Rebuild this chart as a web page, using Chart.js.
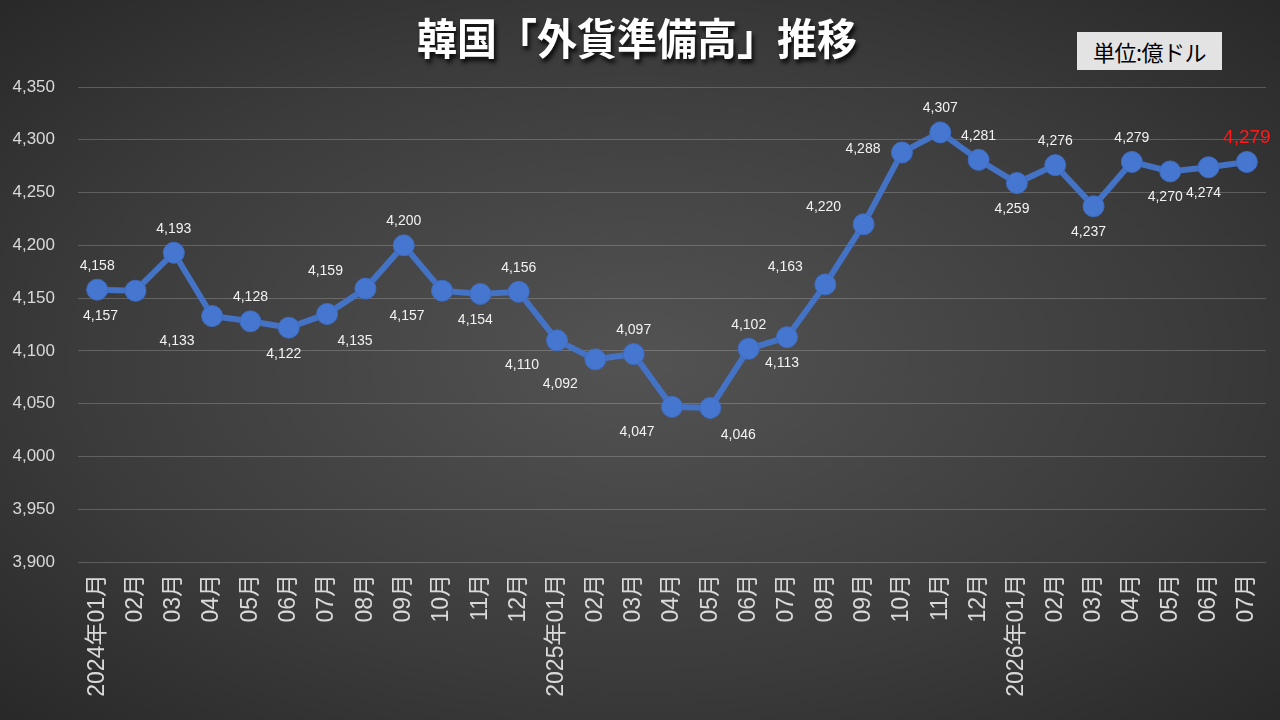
<!DOCTYPE html>
<html lang="ja">
<head>
<meta charset="utf-8">
<script src="https://cdn.jsdelivr.net/npm/chart.js@4.4.1/dist/chart.umd.min.js"></script>
<style>
    html, body { margin: 0; padding: 0; width: 1280px; height: 720px; overflow: hidden; }
    body {
        position: relative;
        background: radial-gradient(ellipse 80% 80% at 50% 50%, #535353 0%, #3b3b3b 55%, #222222 100%);
        font-family: 'Noto Sans CJK JP', sans-serif;
    }
    #title {
        position: absolute; left: 0; top: 8px; width: 1274px;
        text-align: center; color: #ffffff; font-weight: 700; font-size: 40px;
        transform: scaleY(1.08);
        text-shadow: 2px 3px 4px rgba(0, 0, 0, 0.85);
    }
    #unit {
        position: absolute; left: 1077px; top: 32px; width: 145px; height: 38px;
        background: #e3e3e3; color: #000; font-size: 22px; line-height: 38px; text-align: center;
        letter-spacing: -0.5px;
    }
    #wrap { position: absolute; left: 0; top: 0; width: 1280px; height: 720px; }
</style>
</head>
<body>
<div id="wrap"><canvas id="reserveChart" width="1280" height="720"></canvas></div>
<div id="title">韓国「外貨準備高」推移</div>
<div id="unit">単位:億ドル</div>

<script>
// ── DATA ─────────────────────────────────────────────────────────
const MONTHS = [
    '2024年01月', '02月', '03月', '04月', '05月', '06月', '07月', '08月', '09月', '10月', '11月', '12月',
    '2025年01月', '02月', '03月', '04月', '05月', '06月', '07月', '08月', '09月', '10月', '11月', '12月',
    '2026年01月', '02月', '03月', '04月', '05月', '06月', '07月'
];

const RESERVES = [
    4158, 4157, 4193, 4133, 4128, 4122, 4135, 4159, 4200, 4157, 4154, 4156,
    4110, 4092, 4097, 4047, 4046, 4102, 4113, 4163, 4220, 4288, 4307, 4281,
    4259, 4276, 4237, 4279, 4270, 4274, 4279
];

const Y_MIN = 3900;
const Y_MAX = 4350;
const Y_STEP = 50;

// where each value label sits around its point
const LABEL_POS = [
    'a', 'bl', 'a', 'bl', 'a', 'b', 'br', 'al', 'a', 'bl', 'b', 'a',
    'bl', 'bl', 'a', 'bl', 'br', 'a', 'b', 'al', 'al', 'l', 'a', 'a',
    'b', 'a', 'b', 'a', 'b', 'b', 'a'
];

const LABEL_OFFSETS = {
    a:  [0, -24],
    b:  [-5, 26],
    bl: [-35, 25],
    br: [28, 27],
    al: [-40, -17],
    l:  [-39, -3]
};

const fmt = v => v.toLocaleString('en-US');

// ── VALUE LABELS PLUGIN ──────────────────────────────────────────
const valueLabels = {
    id: 'valueLabels',
    afterDatasetsDraw(chart) {
        const ctx = chart.ctx;
        const meta = chart.getDatasetMeta(0);
        const last = meta.data.length - 1;
        ctx.save();
        ctx.textAlign = 'center';
        ctx.textBaseline = 'middle';
        meta.data.forEach((pt, i) => {
            const [dx, dy] = LABEL_OFFSETS[LABEL_POS[i]];
            if (i === last) {
                ctx.fillStyle = '#ff1a1a';
                ctx.font = "19px 'Liberation Sans', sans-serif";
            } else {
                ctx.fillStyle = '#f2f2f2';
                ctx.font = "14px 'Liberation Sans', sans-serif";
            }
            ctx.fillText(fmt(RESERVES[i]), pt.x + dx, pt.y + dy);
        });
        ctx.restore();
    }
};

new Chart(document.getElementById('reserveChart'), {
    type: 'line',
    data: {
        labels: MONTHS,
        datasets: [{
            data: RESERVES,
            borderColor: '#4472C4',
            borderWidth: 6,
            pointRadius: 10.5,
            pointHoverRadius: 10.5,
            pointBackgroundColor: '#4677d0',
            pointBorderColor: '#3f6cc2',
            pointBorderWidth: 1,
            tension: 0
        }]
    },
    options: {
        responsive: false,
        animation: false,
        devicePixelRatio: 1,
        layout: { padding: { top: 87, right: 14, left: 0, bottom: 0 } },
        plugins: {
            legend: { display: false },
            tooltip: { enabled: false }
        },
        scales: {
            x: {
                offset: true,
                grid: { display: false, drawTicks: false },
                border: { display: false },
                ticks: {
                    autoSkip: false,
                    maxRotation: 90,
                    minRotation: 90,
                    padding: 12,
                    color: '#d9d9d9',
                    font: { family: "'Liberation Sans', 'Noto Sans CJK JP', sans-serif", size: 23 }
                },
                afterFit: s => {
                    s.height = 158;
                    s.paddingLeft = 0;
                    s.paddingRight = 0;
                }
            },
            y: {
                min: Y_MIN,
                max: Y_MAX,
                grid: { color: 'rgba(255,255,255,0.2)', lineWidth: 1, drawTicks: false },
                border: { display: false },
                ticks: {
                    stepSize: Y_STEP,
                    padding: 23,
                    color: '#d9d9d9',
                    font: { family: "'Liberation Sans', sans-serif", size: 17 },
                    callback: v => fmt(v)
                },
                afterFit: s => { s.width = 78; }
            }
        }
    },
    plugins: [valueLabels]
});
</script>
</body>
</html>
